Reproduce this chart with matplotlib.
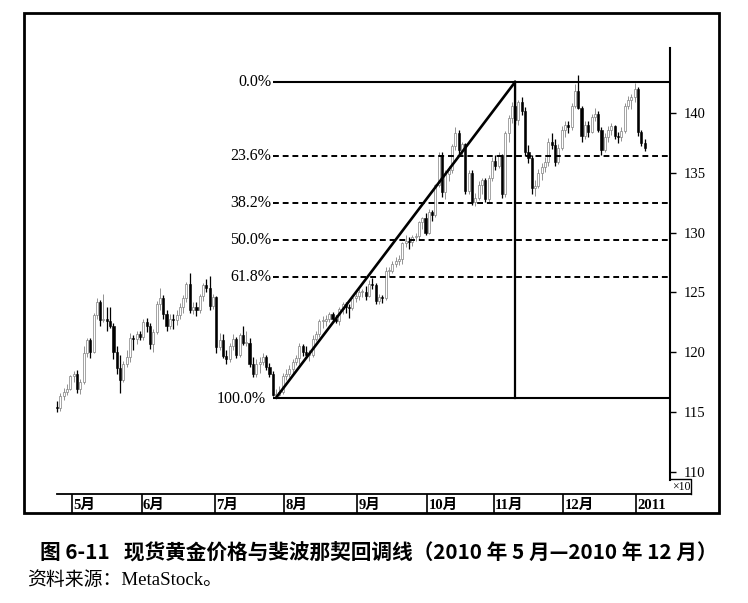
import numpy as np
import matplotlib
matplotlib.use('Agg')
import matplotlib.pyplot as plt
from matplotlib.patches import Rectangle
from matplotlib.lines import Line2D

# daily bars, price in units of 10 USD (axis is "x10")
# Apr(5) May(21) Jun(22) Jul(21) Aug(22) Sep(21) Oct(20) Nov(21) Dec(22) Jan(3)
bars_per_month = [5, 21, 22, 21, 22, 21, 20, 21, 22, 3]
month_labels = ["5月", "6月", "7月", "8月", "9月", "10月", "11月", "12月", "2011"]

opens = [
    115.4, 115.3, 116.3, 116.7, 116.9,
    118.0, 118.2, 116.9, 117.5, 119.9, 121.0, 120.0, 123.1, 124.2, 122.7, 122.8, 122.6, 122.2, 120.0, 118.7, 117.7, 119.0, 119.6, 121.2, 121.1, 121.5,
    121.3, 122.5, 122.2, 120.7, 121.7, 124.0, 124.5, 123.2, 122.2, 122.8, 122.7, 123.1, 123.8, 124.5, 125.7, 123.5, 123.8, 123.5, 124.7, 125.6, 125.4, 123.9,
    124.6, 120.4, 121.0, 119.7, 119.4, 120.5, 121.1, 119.8, 121.4, 120.8, 120.8, 119.0, 118.2, 119.0, 119.2, 119.6, 118.8, 118.2, 116.4, 116.4, 116.7,
    118.0, 118.2, 118.6, 119.2, 119.5, 120.5, 120.0, 119.8, 119.8, 121.1, 121.5, 122.6, 122.6, 122.8, 123.2, 122.8, 122.6, 123.6, 124.0, 123.8, 123.7, 124.5,
    124.7, 125.0, 125.0, 124.7, 125.7, 125.6, 124.3, 124.6, 124.5, 126.8, 126.8, 127.4, 127.6, 127.8, 129.1, 129.3, 129.2, 129.6, 129.7, 130.9, 131.2,
    130.0, 131.7, 131.5, 134.0, 136.5, 133.4, 134.9, 135.2, 137.2, 138.3, 136.9, 137.4, 133.5, 135.0, 132.6, 132.9, 134.0, 134.4, 132.8, 134.6,
    136.0, 135.6, 136.5, 133.2, 138.3, 139.6, 140.6, 139.4, 140.9, 140.2, 136.7, 136.2, 133.7, 133.9, 135.0, 135.5, 135.9, 137.6, 137.3, 135.9, 137.1,
    138.6, 139.0, 138.8, 140.6, 141.8, 140.4, 138.1, 139.0, 138.4, 139.7, 139.9, 138.6, 136.9, 138.0, 138.6, 138.9, 138.1, 138.0, 138.5, 140.6, 141.1, 141.3,
    142.0, 138.4, 137.5,
]
highs = [
    115.9, 116.6, 117.0, 117.3, 118.1,
    118.4, 118.5, 117.8, 120.5, 121.2, 121.2, 123.3, 124.5, 124.4, 124.9, 123.8, 123.8, 122.4, 120.5, 119.8, 119.3, 120.2, 121.6, 121.4, 121.8, 121.8,
    122.8, 122.9, 122.4, 121.9, 124.3, 125.4, 124.8, 123.5, 123.2, 123.2, 123.5, 124.1, 124.8, 125.9, 126.6, 124.2, 124.2, 124.9, 125.8, 126.1, 126.4, 124.9,
    124.7, 121.6, 121.5, 120.2, 120.8, 121.5, 121.3, 121.6, 122.2, 121.8, 121.2, 119.6, 119.4, 119.6, 119.9, 119.8, 119.1, 118.4, 116.9, 117.2, 118.3,
    118.6, 118.9, 119.4, 119.8, 120.8, 120.7, 120.5, 120.2, 121.4, 121.8, 122.8, 123.0, 123.1, 123.4, 123.4, 123.1, 123.8, 124.2, 124.2, 124.0, 124.8, 125.0,
    125.3, 125.3, 125.5, 126.0, 126.2, 125.8, 124.9, 124.8, 127.1, 127.1, 127.6, 128.0, 128.1, 129.2, 129.8, 129.6, 129.8, 130.0, 131.0, 131.3, 131.6,
    132.0, 131.9, 134.1, 136.7, 136.7, 135.2, 135.6, 137.4, 138.8, 138.6, 137.6, 137.5, 135.2, 135.2, 133.3, 134.3, 134.6, 134.6, 134.8, 136.3,
    136.5, 136.7, 136.6, 138.5, 139.8, 140.9, 142.6, 141.1, 141.3, 140.5, 137.3, 136.5, 134.4, 135.3, 135.8, 136.3, 137.9, 138.3, 137.8, 137.4, 138.9,
    139.3, 139.3, 140.8, 142.4, 143.2, 140.6, 139.3, 139.3, 139.9, 140.4, 140.2, 138.8, 138.3, 138.9, 139.2, 139.0, 138.4, 138.8, 140.8, 141.4, 141.6, 142.5,
    142.2, 138.6, 137.8,
]
lows = [
    115.0, 115.1, 116.0, 116.4, 116.8,
    117.5, 116.6, 116.5, 117.3, 119.6, 119.5, 119.9, 122.8, 122.2, 122.5, 121.8, 122.0, 119.4, 118.2, 116.6, 117.5, 118.8, 119.2, 120.2, 120.7, 121.0,
    121.0, 121.7, 120.3, 120.0, 121.5, 123.5, 122.8, 121.8, 121.9, 121.9, 122.3, 122.8, 123.3, 124.2, 123.3, 123.2, 123.0, 123.3, 124.3, 125.0, 123.5, 123.6,
    119.9, 120.2, 119.5, 119.0, 119.2, 120.2, 119.5, 119.6, 120.6, 120.5, 118.8, 117.9, 117.9, 118.3, 118.9, 118.5, 117.9, 116.3, 116.2, 116.3, 116.5,
    117.7, 117.9, 118.3, 118.9, 119.0, 119.7, 119.5, 119.3, 119.6, 120.9, 121.3, 122.0, 122.2, 122.5, 122.5, 122.4, 122.3, 123.2, 123.3, 122.9, 123.5, 124.2,
    124.4, 124.6, 124.4, 124.6, 125.3, 124.0, 124.0, 124.1, 124.4, 126.3, 126.6, 127.1, 127.3, 127.4, 128.8, 128.6, 128.9, 129.3, 129.5, 130.3, 129.8,
    129.9, 131.0, 131.3, 133.8, 133.0, 132.8, 134.3, 135.0, 136.9, 136.5, 136.4, 133.2, 133.2, 132.3, 132.2, 132.7, 133.2, 132.6, 132.6, 134.3,
    135.2, 135.4, 132.9, 133.0, 137.6, 139.2, 139.1, 139.0, 139.8, 136.4, 135.8, 133.2, 133.1, 133.7, 134.4, 135.1, 135.6, 137.0, 135.6, 135.7, 136.9,
    138.0, 138.3, 138.6, 140.4, 140.3, 137.6, 137.8, 138.0, 138.3, 139.3, 138.4, 136.5, 136.7, 137.6, 138.2, 137.8, 137.5, 137.7, 138.3, 140.3, 140.3, 140.9,
    138.1, 137.2, 136.8,
]
closes = [
    115.3, 116.3, 116.7, 116.9, 118.0,
    118.2, 116.9, 117.5, 119.9, 121.0, 120.0, 123.1, 124.2, 122.7, 122.8, 122.6, 122.2, 120.0, 118.7, 117.7, 119.0, 119.6, 121.2, 121.1, 121.5, 121.3,
    122.5, 122.2, 120.7, 121.7, 124.0, 124.5, 123.2, 122.2, 122.8, 122.7, 123.1, 123.8, 124.5, 125.7, 123.5, 123.8, 123.5, 124.7, 125.6, 125.4, 123.9, 124.6,
    120.4, 121.0, 119.7, 119.4, 120.5, 121.1, 119.8, 121.4, 120.8, 120.8, 119.0, 118.2, 119.0, 119.2, 119.6, 118.8, 118.2, 116.4, 116.4, 116.7, 118.0,
    118.2, 118.6, 119.2, 119.5, 120.5, 120.0, 119.8, 119.8, 121.1, 121.5, 122.6, 122.6, 122.8, 123.2, 122.8, 122.6, 123.6, 124.0, 123.8, 123.7, 124.5, 124.7,
    125.0, 125.0, 124.7, 125.7, 125.6, 124.3, 124.6, 124.5, 126.8, 126.8, 127.4, 127.6, 127.8, 129.1, 129.3, 129.2, 129.6, 129.7, 130.9, 131.2, 130.0,
    131.7, 131.5, 134.0, 136.5, 133.4, 134.9, 135.2, 137.2, 138.3, 136.9, 137.4, 133.5, 135.0, 132.6, 132.9, 134.0, 134.4, 132.8, 134.6, 136.0,
    135.6, 136.5, 133.2, 138.3, 139.6, 140.6, 139.4, 140.9, 140.2, 136.7, 136.2, 133.7, 133.9, 135.0, 135.5, 135.9, 137.6, 137.3, 135.9, 137.1, 138.6,
    139.0, 138.8, 140.6, 141.8, 140.4, 138.1, 139.0, 138.4, 139.7, 139.9, 138.6, 136.9, 138.0, 138.6, 138.9, 138.1, 138.0, 138.5, 140.6, 141.1, 141.3, 142.0,
    138.4, 137.5, 137.1,
]

fib_levels = [0.0, 23.6, 38.2, 50.0, 61.8, 100.0]
price_ticks = [110, 115, 120, 125, 130, 135, 140]

n = sum(bars_per_month)
assert len(opens) == len(highs) == len(lows) == len(closes) == n

plt.rcParams['font.family'] = ['Liberation Serif', 'Noto Sans CJK SC']

W, H = 748, 603
fig = plt.figure(figsize=(W / 100, H / 100), dpi=100)

# pixel layout helpers (origin top-left)
BAR0_PX, BAR_PX = 57.0, 3.32


def box(x0, y0, x1, y1):
    return [x0 / W, 1 - y1 / H, (x1 - x0) / W, (y1 - y0) / H]


def px_to_bar(px):
    return (px - BAR0_PX) / BAR_PX


def fig_line(xs, ys, lw):
    fig.add_artist(Line2D([x / W for x in xs], [1 - y / H for y in ys], color='black', lw=lw,
                          transform=fig.transFigure))


# outer frame
fig.add_artist(Rectangle((24 / W, 1 - 513 / H), 695 / W, 500 / H, fill=False, lw=2.0,
                         edgecolor='black', transform=fig.transFigure))

ax = fig.add_axes(box(25, 48, 670, 480))
ax.patch.set_alpha(0)
ax.set_xlim(px_to_bar(25), px_to_bar(670))
ax.set_ylim(140 - (480 - 113) / 11.96, 140 + (113 - 48) / 11.96)
for side in ['left', 'top', 'bottom']:
    ax.spines[side].set_visible(False)
ax.spines['right'].set_linewidth(1.5)
ax.set_xticks([])
ax.yaxis.tick_right()
ax.set_yticks(price_ticks)
ax.tick_params(axis='y', direction='out', length=4, width=1, labelsize=10.5, pad=6)

x = np.arange(n)
o, h, l, c = map(np.array, (opens, highs, lows, closes))
up = c >= o

# candles
ax.vlines(x[up], l[up], h[up], color='#808080', lw=0.6, zorder=2)
ax.vlines(x[~up], l[~up], h[~up], color='black', lw=0.9, zorder=2)
ax.bar(x[up], np.maximum(c[up] - o[up], 0.08), bottom=o[up], width=0.6, facecolor='white',
       edgecolor='#808080', lw=0.5, zorder=3)
ax.bar(x[~up], o[~up] - c[~up], bottom=c[~up], width=0.65, facecolor='black',
       edgecolor='black', lw=0.4, zorder=3)

# fibonacci retracement from the July low to the November high
starts = np.cumsum([0] + bars_per_month[:-1])
jul, dec = starts[3], starts[8]
hi_idx = int(np.argmax(h[:dec]))
lo_idx = int(jul + np.argmin(l[jul:hi_idx]))
hi, lo = h[hi_idx], l[lo_idx]
x_end = px_to_bar(670)

for pct in fib_levels:
    level = hi - pct / 100 * (hi - lo)
    solid = pct in (0.0, 100.0)
    ax.plot([lo_idx - 0.8, x_end], [level, level], color='black', lw=1.5 if solid else 1.4,
            ls='-' if solid else (0, (3, 2)), zorder=4, solid_capstyle='butt')
    off = 3.2 if pct == 100.0 else 1.5
    ax.text(lo_idx - off, level - (0.15 if pct == 100.0 else 0), f"{pct:.1f}%", ha='right',
            va='center', fontsize=11.5)

ax.plot([lo_idx, hi_idx], [lo, hi], color='black', lw=1.9, zorder=4)
ax.plot([hi_idx, hi_idx], [hi, lo], color='black', lw=1.6, zorder=4)

# x10 marker
fig_line([670, 691, 691], [479, 479, 494], 1.0)
fig.text(672 / W, 1 - 487 / H, "×10", fontsize=8.5, va='center', ha='left')

# date strip
fig_line([57, 691], [494, 494], 1.3)
axd = fig.add_axes(box(25, 494, 691, 513))
axd.patch.set_alpha(0)
axd.set_xlim(px_to_bar(25), px_to_bar(691))
axd.set_ylim(0, 1)
axd.axis('off')
for start, label in zip(starts[1:], month_labels):
    axd.vlines(start - 0.5, 0, 1, color='black', lw=1.2)
    axd.text(start - 0.1, 0.42, label, ha='left', va='center', fontsize=10.5, fontweight='bold')

# caption
fig.text(40 / W, 1 - 553 / H, "图 6-11   现货黄金价格与斐波那契回调线（2010 年 5 月—2010 年 12 月）",
         fontsize=14.9, fontweight='bold', family=['Noto Sans CJK SC'], va='center', ha='left')
fig.text(27 / W, 1 - 580 / H, "资料来源：MetaStock。", fontsize=13.6, va='center', ha='left')

fig.savefig('out.png', dpi=100)
